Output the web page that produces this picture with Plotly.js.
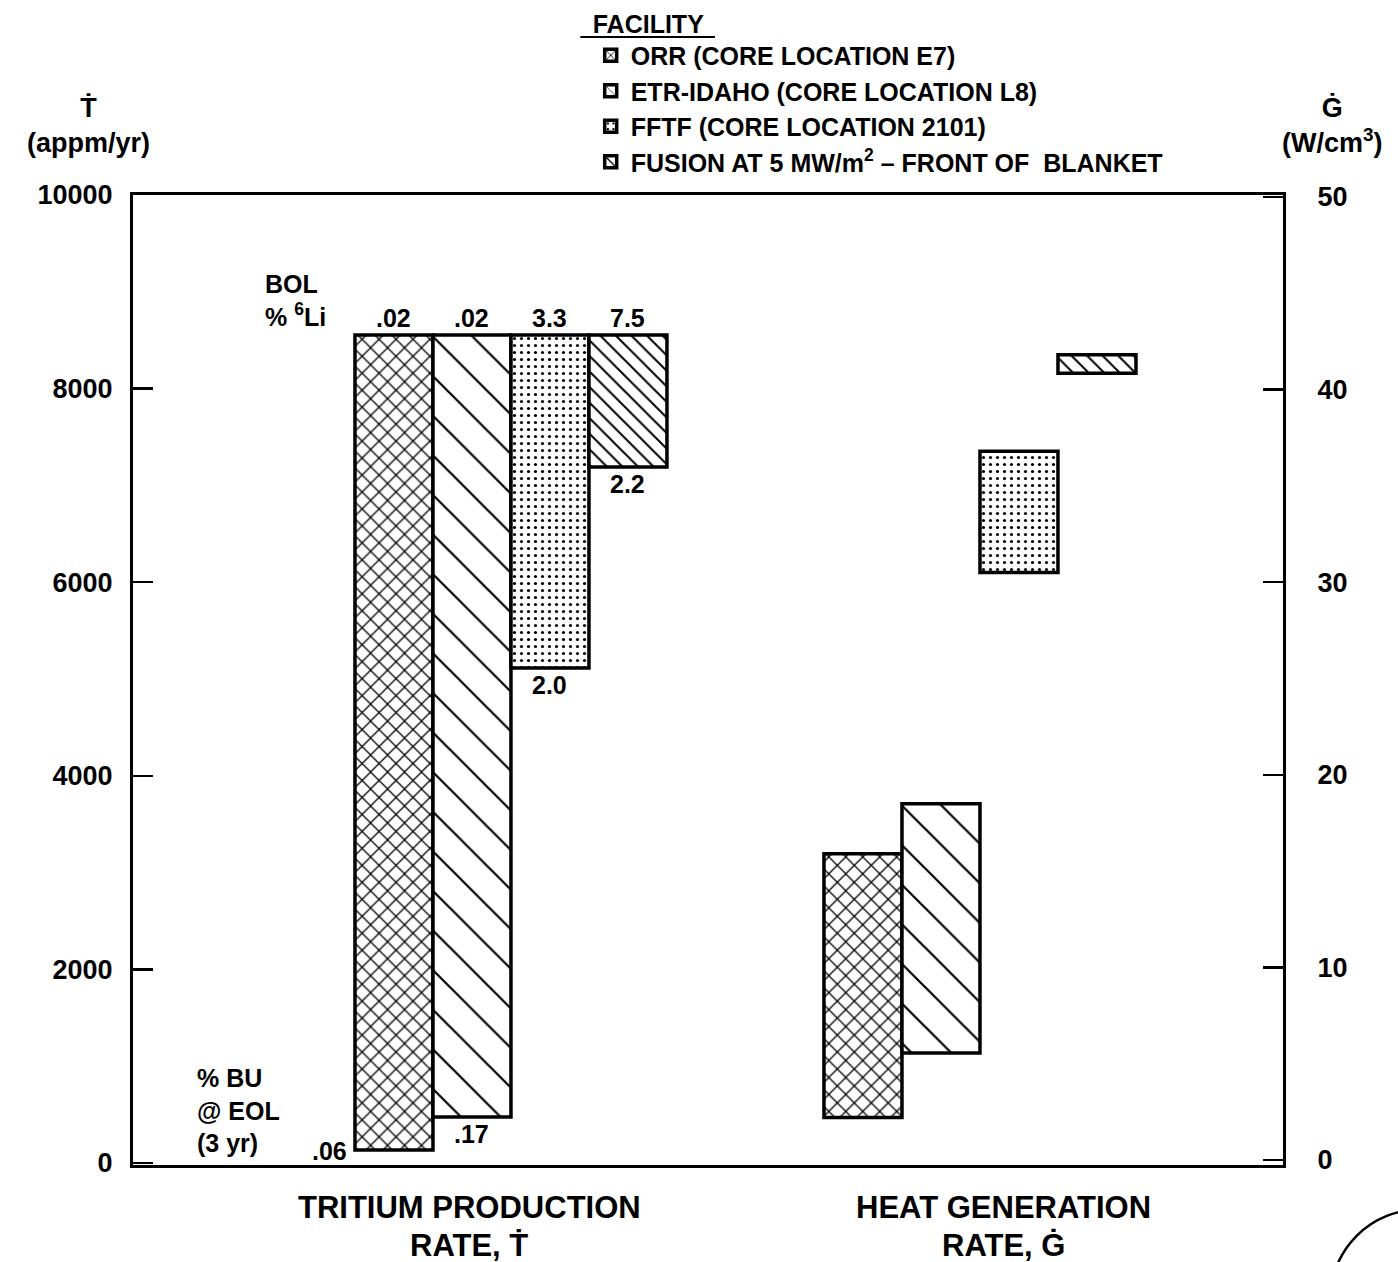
<!DOCTYPE html>
<html>
<head>
<meta charset="utf-8">
<script src="https://cdn.plot.ly/plotly-3.0.1.min.js"></script>
<style>html,body{margin:0;padding:0;background:#fff;}#chart{width:1398px;height:1262px;}</style>
</head>
<body>
<div id="chart"></div>
<script>
// ---- data ----
const facilities = ['ORR (CORE LOCATION E7)', 'ETR-IDAHO (CORE LOCATION L8)', 'FFTF (CORE LOCATION 2101)', 'FUSION AT 5 MW/m<sup>2</sup> – FRONT OF  BLANKET'];
const groups = ['TRITIUM', 'HEAT'];
const groupLabels = ['TRITIUM PRODUCTION<br>RATE, Ṫ', 'HEAT GENERATION<br>RATE, Ġ'];
// Tritium production rate (appm/yr): EOL (bottom) and BOL (top)
const tritiumLow  = [134, 475, 5114, 7190];
const tritiumHigh = [8554, 8554, 8554, 8554];
// Heat generation rate (W/cm3): low and high
const heatLow  = [2.2, 5.55, 30.5, 40.85];
const heatHigh = [15.9, 18.5, 36.8, 41.8];
// Labels
const bolLi6 = ['.02', '.02', '3.3', '7.5'];
const buEol  = ['.06', '.17', '2.0', '2.2'];
const leftTicks  = [0, 2000, 4000, 6000, 8000, 10000];
const rightTicks = [0, 10, 20, 30, 40, 50];

// ---- styles ----
const FONT = 'Arial, "Liberation Sans", Helvetica, sans-serif';
const patterns = [
  {shape: 'x', size: 12, solidity: 0.2},
  {shape: '\\', size: 28, solidity: 0.08},
  {shape: '.', size: 7, solidity: 0.16},
  {shape: '\\', size: 11, solidity: 0.18}
];
const barW = 0.1663;
const offsets = [-0.3337, -0.1674, -0.0011, 0.1652];

const traces = [];
facilities.forEach((name, i) => {
  const marker = {
    color: '#ffffff',
    line: {color: '#000', width: 3.5},
    pattern: Object.assign({fgcolor: '#000', bgcolor: '#fff', fillmode: 'replace'}, patterns[i])
  };
  traces.push({
    type: 'bar', name: name, legendgroup: 'f' + i,
    x: [groups[0]], y: [tritiumHigh[i] - tritiumLow[i]], base: [tritiumLow[i]],
    width: barW, offset: offsets[i], marker: marker, yaxis: 'y', hoverinfo: 'skip'
  });
  traces.push({
    type: 'bar', name: name, legendgroup: 'f' + i, showlegend: false,
    x: [groups[1]], y: [heatHigh[i] - heatLow[i]], base: [heatLow[i]],
    width: barW, offset: offsets[i], marker: marker, yaxis: 'y2', hoverinfo: 'skip'
  });
});

const annFont = {family: FONT, size: 25, color: '#000', weight: 'bold'};
const annotations = [];
facilities.forEach((f, i) => {
  annotations.push({x: offsets[i] + barW / 2, y: tritiumHigh[i], xref: 'x', yref: 'y', text: bolLi6[i],
    showarrow: false, yanchor: 'bottom', yshift: 1, font: annFont});
});
// bottom labels
annotations.push({x: offsets[0], y: tritiumLow[0], xref: 'x', yref: 'y', text: buEol[0], showarrow: false,
  xanchor: 'right', yanchor: 'middle', xshift: -6, yshift: -1, font: annFont});
for (let i = 1; i < 4; i++) {
  annotations.push({x: offsets[i] + barW / 2, y: tritiumLow[i], xref: 'x', yref: 'y', text: buEol[i],
    showarrow: false, yanchor: 'top', yshift: -1, font: annFont});
}
annotations.push({x: -0.53, y: 8554, xref: 'x', yref: 'y', text: 'BOL<br>% <sup>6</sup>Li', align: 'left',
  xanchor: 'left', yanchor: 'bottom', yshift: 2, showarrow: false, font: annFont});
annotations.push({x: -0.675, y: 0, xref: 'x', yref: 'y', text: '% BU<br>@ EOL<br>(3 yr)', align: 'left',
  xanchor: 'left', yanchor: 'bottom', yshift: 4, showarrow: false, font: annFont});
// axis titles
const axTitleFont = {family: FONT, size: 27, color: '#000', weight: 'bold'};
annotations.push({x: -0.039, y: 1.036, xref: 'paper', yref: 'paper', text: 'Ṫ<br>(appm/yr)',
  showarrow: false, xanchor: 'center', yanchor: 'bottom', font: axTitleFont});
annotations.push({x: 1.043, y: 1.036, xref: 'paper', yref: 'paper', text: 'Ġ<br>(W/cm<sup>3</sup>)',
  showarrow: false, xanchor: 'center', yanchor: 'bottom', font: axTitleFont});
// group labels (each line placed separately)
const groupCenters = [-0.09, 1.05];
const lineY = [-0.0443, -0.0825];
groups.forEach((g, i) => {
  groupLabels[i].split('<br>').forEach((line, j) => {
    annotations.push({x: groupCenters[i], y: lineY[j], xref: 'x', yref: 'paper', text: line,
      showarrow: false, yanchor: 'middle', font: {family: FONT, size: 31, color: '#000', weight: 'bold'}});
  });
});

const layout = {
  width: 1398, height: 1262,
  margin: {l: 133, r: 115, t: 195, b: 97, autoexpand: false},
  paper_bgcolor: '#fff', plot_bgcolor: '#fff',
  barmode: 'overlay',
  showlegend: true,
  legend: {
    x: 0.398, y: 1.201, xanchor: 'left', yanchor: 'top',
    font: {family: FONT, size: 25, color: '#000', weight: 'bold'},
    title: {text: '<b>FACILITY</b>', side: 'top', font: {family: FONT, size: 25, color: '#000', weight: 'bold'}},
    bgcolor: 'rgba(0,0,0,0)', itemclick: false, tracegroupgap: 0
  },
  xaxis: {
    type: 'category', range: [-0.807, 1.645], showticklabels: false, ticks: '',
    showgrid: false, zeroline: false, showline: true, linecolor: '#000', linewidth: 3, mirror: true
  },
  yaxis: {
    range: [-21, 10000], tickvals: leftTicks, ticktext: leftTicks.map(String),
    ticks: 'inside', ticklen: 20, tickwidth: 2.5, tickcolor: '#000',
    showgrid: false, zeroline: false, showline: true, linecolor: '#000', linewidth: 3,
    ticklabelstandoff: 12,
    tickfont: {family: FONT, size: 27, color: '#000', weight: 'bold'}
  },
  yaxis2: {
    overlaying: 'y', side: 'right', range: [-0.26, 50.1], tickvals: rightTicks, ticktext: rightTicks.map(String),
    ticks: 'inside', ticklen: 20, tickwidth: 2.5, tickcolor: '#000',
    showgrid: false, zeroline: false, showline: true, linecolor: '#000', linewidth: 3,
    ticklabelstandoff: 26,
    tickfont: {family: FONT, size: 27, color: '#000', weight: 'bold'}
  },
  shapes: [
    {type: 'line', xref: 'paper', yref: 'paper', x0: 0.389, x1: 0.506, y0: 1.163, y1: 1.163, line: {color: '#000', width: 2}},
    {type: 'circle', xref: 'paper', yref: 'paper', x0: 1.041, x1: 1.197, y0: -0.232, y1: -0.046, line: {color: '#000', width: 2.5}}
  ],
  annotations: annotations
};

Plotly.newPlot('chart', traces, layout, {staticPlot: true});
</script>
</body>
</html>
